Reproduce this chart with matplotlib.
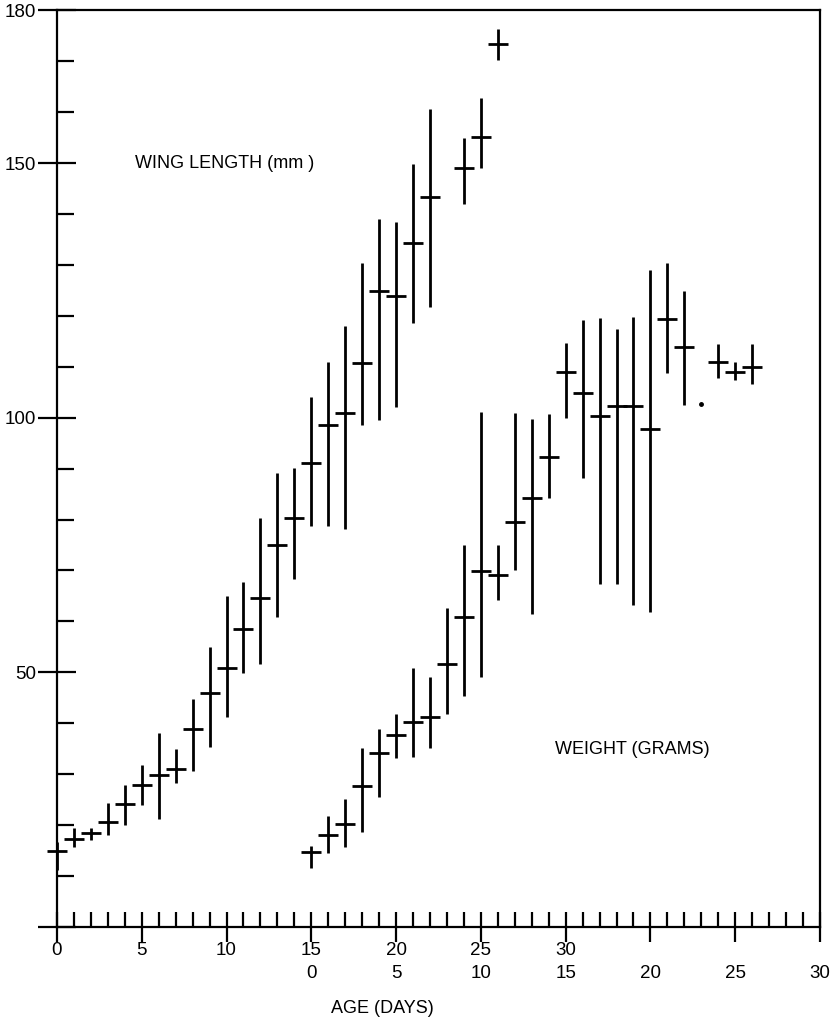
import matplotlib
matplotlib.use("Agg")
import matplotlib.pyplot as plt
from matplotlib.ticker import MultipleLocator, FixedLocator

plt.rcParams["font.family"] = ["Liberation Sans", "DejaVu Sans"]

# wing length (mm) by age in days
wing_age = list(range(0, 23)) + [24, 25, 26]
wing_mean = [14.9, 17.3, 18.5, 20.6, 24.2, 27.9, 29.9, 31.0, 38.9, 46.0, 50.9, 58.5, 64.6,
             75.0, 80.2, 91.0, 98.6, 101.0, 110.8, 124.8, 123.8, 134.2, 143.4, 149.1, 155.2, 173.3]
wing_low = [11.2, 15.7, 17.1, 18.1, 20.0, 24.0, 21.2, 28.3, 30.6, 35.4, 41.3, 49.9, 51.7,
            60.9, 68.4, 78.8, 78.8, 78.2, 98.6, 99.6, 102.0, 118.5, 121.8, 142.0, 149.1, 170.3]
wing_high = [16.7, 19.4, 19.4, 24.4, 27.9, 31.8, 38.1, 35.0, 44.8, 55.0, 65.0, 67.8, 80.2,
             89.2, 90.2, 104.1, 111.0, 117.9, 130.4, 139.1, 138.5, 149.9, 160.7, 155.0, 162.7, 176.4]

# weight (grams) by age in days, plotted on a second age scale offset by 15
weight_offset = 15
weight_age = list(range(0, 23)) + [24, 25, 26]
weight_mean = [14.7, 18.1, 20.2, 27.7, 34.2, 37.7, 40.3, 41.3, 51.7, 60.9, 69.9, 69.2, 79.6,
               84.3, 92.3, 109.0, 104.9, 100.4, 102.2, 102.2, 97.8, 119.4, 113.8, 111.0, 109.0, 110.0]
weight_low = [11.6, 14.5, 15.7, 18.7, 25.5, 33.2, 33.4, 35.1, 41.8, 45.4, 49.1, 64.2, 70.1,
              61.5, 84.3, 100.0, 88.2, 67.4, 67.4, 63.3, 61.9, 108.8, 102.4, 107.7, 107.3, 106.7]
weight_high = [15.9, 21.8, 25.1, 35.1, 38.9, 41.8, 50.9, 49.1, 62.6, 75.0, 101.2, 74.9, 101.0,
               99.8, 100.8, 114.7, 119.1, 119.6, 117.5, 119.8, 128.9, 130.4, 124.8, 114.5, 111.0, 114.5]
weight_dot_age = [23]
weight_dot = [102.6]

wing_ticks = [0, 5, 10, 15, 20, 25, 30]
weight_ticks = [0, 5, 10, 15, 20, 25, 30]

fig = plt.figure(figsize=(8.38, 10.22), dpi=100)
ax = fig.add_axes([0.068, 0.093, 0.9105, 0.897])

INK = "black"


def draw_series(x, mean, low, high):
    yerr = [[m - lo for m, lo in zip(mean, low)], [hi - m for m, hi in zip(mean, high)]]
    ax.errorbar(x, mean, yerr=yerr, fmt="none", ecolor=INK, elinewidth=2.0,
                capsize=0, clip_on=False)
    ax.plot(x, mean, linestyle="none", marker="_", markersize=14,
            markeredgewidth=2.0, color=INK, clip_on=False)


draw_series(wing_age, wing_mean, wing_low, wing_high)
draw_series([a + weight_offset for a in weight_age], weight_mean, weight_low, weight_high)
ax.plot([a + weight_offset for a in weight_dot_age], weight_dot, linestyle="none",
        marker="o", markersize=2.5, color=INK)

ax.set_xlim(0, 45)
ax.set_ylim(0, 180)

for side in ["left", "right", "top", "bottom"]:
    ax.spines[side].set_linewidth(1.6)

# y axis
ax.yaxis.set_major_locator(FixedLocator([0, 50, 100, 150, 180]))
ax.yaxis.set_minor_locator(FixedLocator([v for v in range(10, 180, 10) if v not in (50, 100, 150)]))
ax.set_yticklabels(["", "50", "100", "150", "180"])
ax.tick_params(axis="y", which="major", direction="inout", length=28, width=1.6,
               labelsize=13.5, pad=1)
ax.tick_params(axis="y", which="minor", direction="in", length=12, width=1.6)

# x axis with two age scales
ax.xaxis.set_major_locator(MultipleLocator(5))
ax.xaxis.set_minor_locator(MultipleLocator(1))
labels = []
for pos in range(0, 46, 5):
    top = str(pos) if pos in wing_ticks else ""
    bottom = str(pos - weight_offset) if (pos - weight_offset) in weight_ticks else ""
    labels.append(top + "\n" + bottom)
ax.set_xticks(range(0, 46, 5))
ax.set_xticklabels(labels, linespacing=1.45)
ax.tick_params(axis="x", which="major", direction="inout", length=22, width=1.6,
               labelsize=13.5, pad=0)
ax.tick_params(axis="x", which="minor", direction="in", length=11, width=1.6)

ax.text(4.6, 150, "WING LENGTH (mm )", fontsize=13, va="center", ha="left")
ax.text(29.4, 34.8, "WEIGHT (GRAMS)", fontsize=13, va="center", ha="left")
ax.set_xlabel("AGE (DAYS)", fontsize=13)
ax.xaxis.set_label_coords(0.427, -0.08)

fig.savefig("out.png", dpi=100)
